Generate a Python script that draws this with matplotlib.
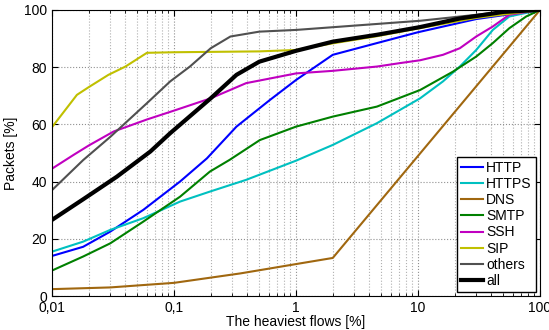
import matplotlib.pyplot as plt
from matplotlib.ticker import FixedLocator, LogLocator, NullFormatter

plt.rcParams['font.family'] = ['Liberation Sans', 'DejaVu Sans']
plt.rcParams['font.size'] = 10

# x: share of heaviest flows [%], y: share of packets [%]
http_x = [0.01, 0.018, 0.03, 0.056, 0.112, 0.186, 0.325, 0.61, 1, 2, 4.6, 10, 30, 100]
http_y = [14, 17.2, 22.5, 30.1, 40, 48.1, 59.2, 68.5, 75.5, 84.3, 88.4, 92.2, 96.8, 100]

https_x = [0.01, 0.018, 0.03, 0.056, 0.112, 0.197, 0.39, 1, 2, 4.6, 10.4, 16, 22, 30, 41, 56, 100]
https_y = [15.5, 19, 23.1, 27.2, 33, 36.5, 40.6, 47.3, 52.8, 60.4, 69.1, 75, 80.2, 86, 93, 97.7, 100]

dns_x = [0.01, 0.03, 0.1, 0.35, 1.08, 2, 100]
dns_y = [2.4, 3, 4.6, 7.9, 11.4, 13.3, 100]

smtp_x = [0.01, 0.018, 0.03, 0.056, 0.112, 0.197, 0.286, 0.505, 1, 2, 4.6, 10.4, 19.3, 30, 41, 56, 77, 100]
smtp_y = [8.9, 13.8, 18.4, 26, 34.7, 43.5, 47.6, 54.5, 59.2, 62.7, 66.2, 72, 78.4, 83.7, 88.4, 93.6, 97.7, 100]

ssh_x = [0.01, 0.015, 0.02, 0.032, 0.06, 0.1, 0.2, 0.39, 1, 2, 4.6, 7.1, 10.4, 16, 22, 30, 41, 56, 100]
ssh_y = [44.5, 49.3, 52.6, 57.5, 61.7, 64.8, 69.1, 74.4, 77.8, 78.7, 80.2, 81.4, 82.4, 84.3, 86.6, 90.7, 94.2, 98.3, 100]

sip_x = [0.01, 0.016, 0.02, 0.029, 0.04, 0.06, 0.1, 0.5, 1, 2, 4.6, 10, 30, 100]
sip_y = [59, 70.3, 73, 77.3, 80.2, 85, 85.2, 85.5, 86, 88.3, 90.8, 93.5, 97.2, 100]

others_x = [0.01, 0.018, 0.03, 0.06, 0.093, 0.135, 0.2, 0.29, 0.5, 1, 10.4, 50, 100]
others_y = [37, 47.5, 55.6, 67.4, 75, 80.2, 86.6, 90.7, 92.4, 93, 96.2, 99.3, 100]

all_x = [0.01, 0.018, 0.034, 0.064, 0.093, 0.2, 0.325, 0.5, 1, 2, 4.6, 10.4, 22, 50, 100]
all_y = [26.6, 33.8, 41.7, 50.5, 56.9, 69.1, 77.3, 81.9, 85.7, 88.9, 91.3, 94, 97, 99.3, 100]

series = [
    ('HTTP', http_x, http_y, '#0000ff', 1.5),
    ('HTTPS', https_x, https_y, '#00c0c0', 1.5),
    ('DNS', dns_x, dns_y, '#a0670f', 1.5),
    ('SMTP', smtp_x, smtp_y, '#008000', 1.5),
    ('SSH', ssh_x, ssh_y, '#c000c0', 1.5),
    ('SIP', sip_x, sip_y, '#c0c000', 1.5),
    ('others', others_x, others_y, '#505050', 1.5),
    ('all', all_x, all_y, '#000000', 3),
]

fig = plt.figure(figsize=(5.49, 3.30), dpi=100)
ax = fig.add_axes([0.0947, 0.103, 0.889, 0.867])

for name, x, y, c, lw in series:
    ax.plot(x, y, color=c, lw=lw, label=name)

ax.set_xscale('log')
ax.set_xlim(0.01, 100)
ax.set_ylim(0, 100)
ax.xaxis.set_major_locator(FixedLocator([0.01, 0.1, 1, 10, 100]))
ax.set_xticklabels(['0,01', '0,1', '1', '10', '100'])
ax.xaxis.set_minor_locator(LogLocator(base=10, subs=range(2, 10)))
ax.xaxis.set_minor_formatter(NullFormatter())
ax.set_yticks([0, 20, 40, 60, 80, 100])

ax.grid(True, which='major', ls=':', color='#909090', lw=0.8)
ax.grid(True, which='minor', axis='x', ls=':', color='#b0b0b0', lw=0.8)
ax.tick_params(which='both', direction='in', top=True, right=True)
ax.tick_params(which='major', length=4)
ax.tick_params(which='minor', length=2)

ax.set_xlabel('The heaviest flows [%]', labelpad=0)
ax.set_ylabel('Packets [%]')

leg = ax.legend(loc='lower right', fancybox=False, edgecolor='black',
                framealpha=1, handlelength=1.6, handletextpad=0.2,
                labelspacing=0.15, borderpad=0.3, borderaxespad=0.3)
leg.get_frame().set_linewidth(1)

fig.savefig('out.png', dpi=100)
